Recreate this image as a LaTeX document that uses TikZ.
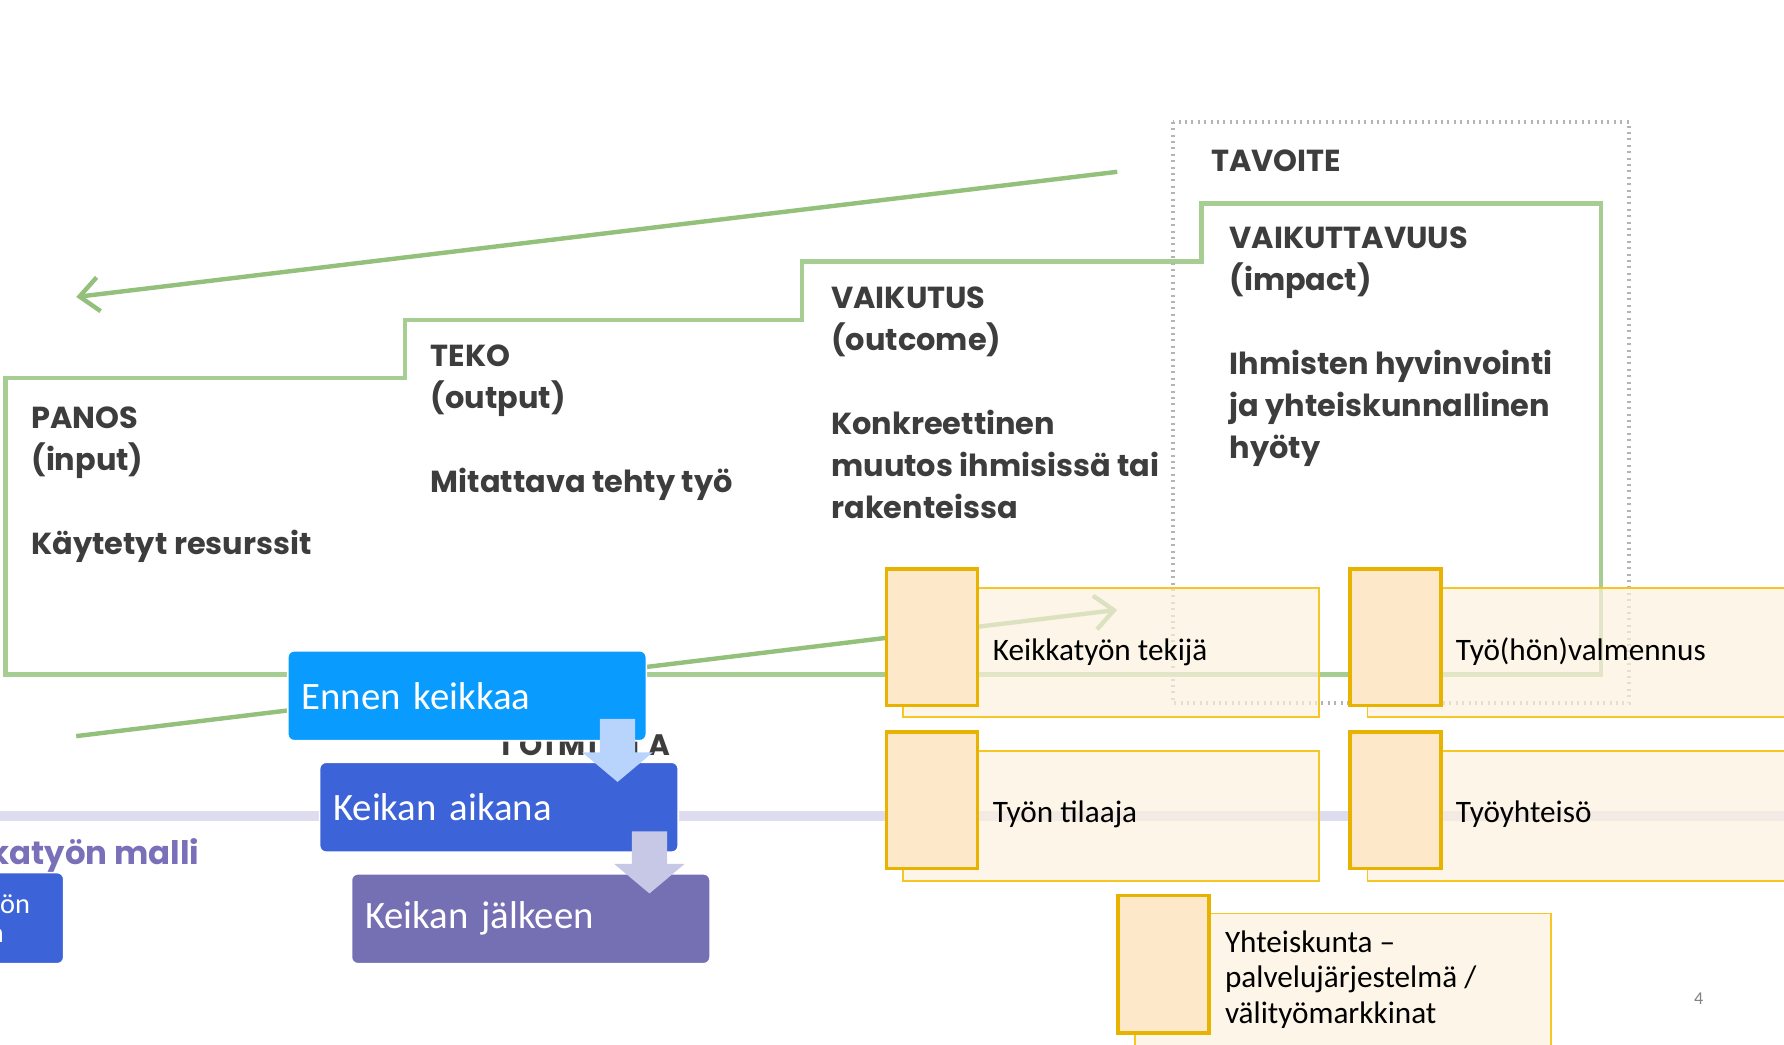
\documentclass[tikz,border=0pt]{standalone}
\usepackage{fontspec}
\setmainfont{Carlito}
\newfontfamily\modelfont{Poppins}
\newfontfamily\spacedfont{Poppins}[LetterSpace=12]
\usetikzlibrary{arrows.meta,calc}

\definecolor{stepgreen}{HTML}{A6CD92}
\definecolor{arrowgreen}{HTML}{93C07A}
\definecolor{modeltext}{HTML}{3D3D3D}
\definecolor{dotgray}{HTML}{B4B4B4}
\definecolor{ennenblue}{HTML}{0A9BFF}
\definecolor{aikanablue}{HTML}{3C63D8}
\definecolor{jalkeenpurple}{HTML}{7570B3}
\definecolor{arrowblue}{HTML}{B8D4FC}
\definecolor{arrowlilac}{HTML}{C6C8E6}
\definecolor{lavender}{HTML}{DEDDF0}
\definecolor{tabfill}{HTML}{FDE8C9}
\definecolor{tabline}{HTML}{E8B200}
\definecolor{cardfill}{HTML}{FCF1DE}
\definecolor{cardline}{HTML}{F6C625}
\definecolor{titlepurple}{HTML}{7A70BA}

\tikzset{
  modeltxt/.style={text=modeltext, font=\modelfont\bfseries\fontsize{7.6}{10.5}\selectfont, inner sep=0pt, anchor=base west, align=left},
  stepbox/.style={rectangle, rounded corners=1.6pt, draw=white, line width=0.4pt, minimum width=3.15cm, minimum height=0.79cm, text=white, font=\fontsize{9.7}{11}\selectfont, text width=2.91cm, align=left, inner xsep=0.12cm},
  card/.style={rectangle, draw=cardline, line width=0.45pt, fill=cardfill, fill opacity=0.7, inner sep=0pt},
  tab/.style={rectangle, draw=tabline, line width=0.85pt, fill=tabfill, inner sep=0pt, minimum width=0.8cm, minimum height=1.2cm},
  cardtxt/.style={anchor=west, inner sep=0pt, font=\fontsize{7.8}{8.8}\selectfont, align=left},
  greenarrow/.style={arrowgreen, line width=1.1pt, -{Straight Barb[length=4.8pt,width=8.5pt]}}
}

\begin{document}
\begin{tikzpicture}[x=0.01cm, y=-0.01cm]
\useasboundingbox (0,0) rectangle (1568,918);
\clip (0,0) rectangle (1568,918);

% vaakaviiva taustalla
\draw[lavender, line width=2.4pt] (0,717) -- (1568,717);

% logiikkamallin portaat
\draw[stepgreen, line width=1.1pt] (5,593) -- (5,332) -- (356,332) -- (356,281) -- (705,281) -- (705,230) -- (1056,230) -- (1056,179) -- (1407,179) -- (1407,593) -- cycle;
\draw[dotgray, dash pattern=on 0.5pt off 1.1pt, line width=0.9pt] (1031,107) rectangle (1432,618);

\coordinate (backstart) at (982,151);
\coordinate (backend) at (67,261);
\draw[greenarrow] (backstart) -- (backend);
\coordinate (fwdstart) at (67,647);
\coordinate (fwdend) at (982,536);
\draw[greenarrow] (fwdstart) -- (fwdend);

% tekstit: ankkuri on viimeisen rivin perusviiva
\node[modeltxt] (panos) at (27,487) {PANOS\\(input)\\[10.5pt]Käytetyt resurssit};
\node[modeltxt] (teko) at (378,433) {TEKO\\(output)\\[10.5pt]Mitattava tehty työ};
\node[modeltxt] (vaikutus) at (730,456) {VAIKUTUS\\(outcome)\\[10.5pt]Konkreettinen\\muutos ihmisissä tai\\rakenteissa};
\node[modeltxt] (tavoite) at (1064,151) {TAVOITE};
\node[modeltxt] (vaikuttavuus) at (1080,403) {VAIKUTTAVUUS\\(impact)\\[10.5pt]Ihmisten hyvinvointi\\ja yhteiskunnallinen\\hyöty};
\node[text=modeltext, font=\spacedfont\bfseries\fontsize{7.4}{9}\selectfont, inner sep=0pt, anchor=base west] (toiminta) at (437,664) {TOIMINTA};

% keikan vaiheet
\node[stepbox, fill=ennenblue] (ennen) at (410.5,611.5) {Ennen keikkaa};
\node[stepbox, fill=aikanablue] (aikana) at (438.5,709.5) {Keikan aikana};
\node[stepbox, fill=jalkeenpurple] (jalkeen) at (466.5,807.5) {Keikan jälkeen};

\coordinate (a1top) at ($(ennen.south east)+(-26,-20)$);
\coordinate (a1tip) at ($(aikana.north east)+(-54,18)$);
\fill[arrowblue] ($(a1top)+(-15.5,0)$) -- ($(a1top)+(15.5,0)$) -- ($(a1tip)+(15.5,-26)$) -- ($(a1tip)+(31,-26)$) -- (a1tip) -- ($(a1tip)+(-31,-26)$) -- ($(a1tip)+(-15.5,-26)$) -- cycle;
\coordinate (a2top) at ($(aikana.south east)+(-26,-19)$);
\coordinate (a2tip) at ($(jalkeen.north east)+(-54,18)$);
\fill[arrowlilac] ($(a2top)+(-15.5,0)$) -- ($(a2top)+(15.5,0)$) -- ($(a2tip)+(15.5,-26)$) -- ($(a2tip)+(31,-26)$) -- (a2tip) -- ($(a2tip)+(-31,-26)$) -- ($(a2tip)+(-15.5,-26)$) -- cycle;

% vasen reuna
\node[text=titlepurple, font=\modelfont\bfseries\fontsize{8.1}{9}\selectfont, inner sep=0pt, anchor=base east] (malli) at (176,760) {katyön malli};
\node[rectangle, rounded corners=1.6pt, draw=white, line width=0.4pt, fill=aikanablue, minimum width=0.8cm, minimum height=0.8cm] (pieni) at (16,807) {};
\node[text=white, font=\fontsize{7.1}{8}\selectfont, inner sep=0pt, anchor=base east] (pieni1) at (27,803) {yön};
\node[text=white, font=\fontsize{7.1}{8}\selectfont, inner sep=0pt, anchor=base east] (pieni2) at (4,828) {n};

% toimijat
\node[card, minimum width=3.65cm, minimum height=1.13cm] (tekijacard) at (976.5,573.5) {};
\node[tab] (tekijatab) at (819,560) {};
\node[card, minimum width=3.88cm, minimum height=1.13cm] (valmcard) at (1396,573.5) {};
\node[tab] (valmtab) at (1226.5,560) {};
\node[card, minimum width=3.65cm, minimum height=1.14cm] (tilaajacard) at (976.5,717) {};
\node[tab] (tilaajatab) at (819,703.5) {};
\node[card, minimum width=3.88cm, minimum height=1.14cm] (yhteisocard) at (1396,717) {};
\node[tab] (yhteisotab) at (1226.5,703.5) {};
\node[card, minimum width=3.65cm, minimum height=1.32cm] (kuntacard) at (1180.5,869) {};
\node[tab, minimum height=1.21cm] (kuntatab) at (1022.5,847.5) {};

\node[cardtxt] (tekija) at (872,573) {Keikkatyön tekijä};
\node[cardtxt] (valmennus) at (1279,573) {Työ(hön)valmennus};
\node[cardtxt] (tilaaja) at (872,716) {Työn tilaaja};
\node[cardtxt] (yhteiso) at (1279,716) {Työyhteisö};
\node[cardtxt] (kunta) at (1076,861) {Yhteiskunta –\\palvelujärjestelmä /\\välityömarkkinat};

\node[text=gray, font=\fontsize{4.5}{5}\selectfont, inner sep=0pt] (sivu) at (1493,878) {4};
\end{tikzpicture}
\end{document}
